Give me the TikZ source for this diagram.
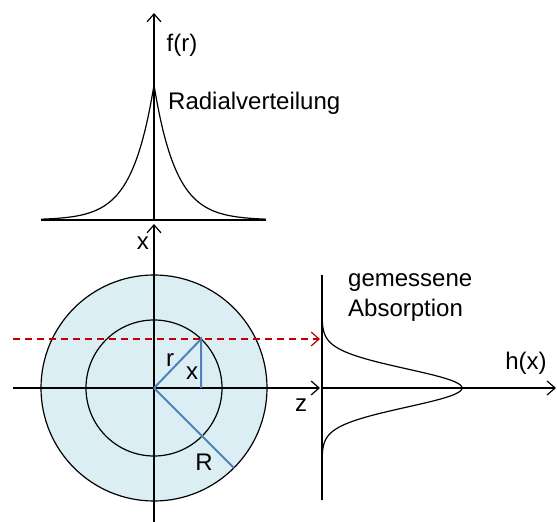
\documentclass[tikz,border=0pt]{standalone}
\usepackage{fontspec}
\setmainfont{Liberation Sans}
\usetikzlibrary{arrows.meta}
\definecolor{ringfill}{RGB}{218,238,243}
\definecolor{radblue}{RGB}{79,129,189}
\definecolor{rayred}{RGB}{192,0,0}
\tikzset{
  axis/.style={line width=1.2pt,-{Straight Barb[length=8pt,width=14pt,line width=1.2pt]}},
  radline/.style={radblue,line width=2pt},
  lbl/.style={inner sep=0pt,font=\fontsize{24}{28}\selectfont}
}

\begin{document}
\begin{tikzpicture}[x=1pt,y=1pt]
  \useasboundingbox (-154,-134) rectangle (403,388);
  % disc with inner circle
  \draw[line width=1.2pt,fill=ringfill] (0,0) circle (113);
  \draw[line width=1.2pt] (0,0) circle (68);
  \coordinate (O) at (0,0);
  \coordinate (P) at (46.1:68);
  \coordinate (Px) at (P |- O);
  \coordinate (Q) at (-45:113);
  % axes
  \coordinate (xbot) at (0,-134);
  \coordinate (xtop) at (0,164);
  \coordinate (zl) at (-141,0);
  \coordinate (zr) at (166,0);
  \coordinate (hl) at (168,0);
  \coordinate (hr) at (402,0);
  \draw[axis] (xbot) -- (xtop);
  \draw[axis] (zl) -- (zr);
  \draw[axis] (hl) -- (hr);
  % radii
  \draw[radline] (O) -- (P) -- (Px);
  \draw[radline] (O) -- (Q);
  % ray
  \coordinate (rayl) at (-141,49);
  \coordinate (rayr) at (166,49);
  \draw[rayred,line width=1.2pt,dash pattern=on 7pt off 5pt,
        -{Straight Barb[length=8pt,width=14pt,line width=1.2pt]}] (rayl) -- (rayr);
  \node[lbl] (lr) at (16,28) {r};
  \node[lbl] (lx) at (38,15) {x};
  \node[lbl] (lR) at (50,-74) {R};
  \node[lbl] (lz) at (147,-17) {z};
  \node[lbl] (lxa) at (-11,145) {x};
  % radial distribution
  \coordinate (fb) at (0,168);
  \coordinate (ft) at (0,375);
  \coordinate (fl) at (-113,168);
  \coordinate (fr) at (112,168);
  \draw[line width=1.2pt] (fl) -- (fr);
  \draw[axis] (fb) -- (ft);
  \draw[line width=1.2pt] plot[domain=-113:0,samples=90] (\x,{168+135*exp(\x/22)})
    -- plot[domain=0:112,samples=90] (\x,{168+135*exp(-\x/22)});
  \node[lbl] (lf) at (28,343) {f(r)};
  \node[lbl,anchor=west] (lrad) at (14,285) {Radialverteilung};
  % measured absorption
  \coordinate (hb) at (168,-112);
  \coordinate (ht) at (168,113);
  \draw[line width=2pt] (hb) -- (ht);
  \draw[line width=1.2pt] plot[domain=-112:112,samples=161] ({168+140*exp(-(\x/27)^2)},\x);
  \node[lbl,anchor=west] (lgem) at (194,105) {gemessene};
  \node[lbl,anchor=west] (labs) at (194,78) {Absorption};
  \node[lbl] (lh) at (372,25) {h(x)};
\end{tikzpicture}
\end{document}
